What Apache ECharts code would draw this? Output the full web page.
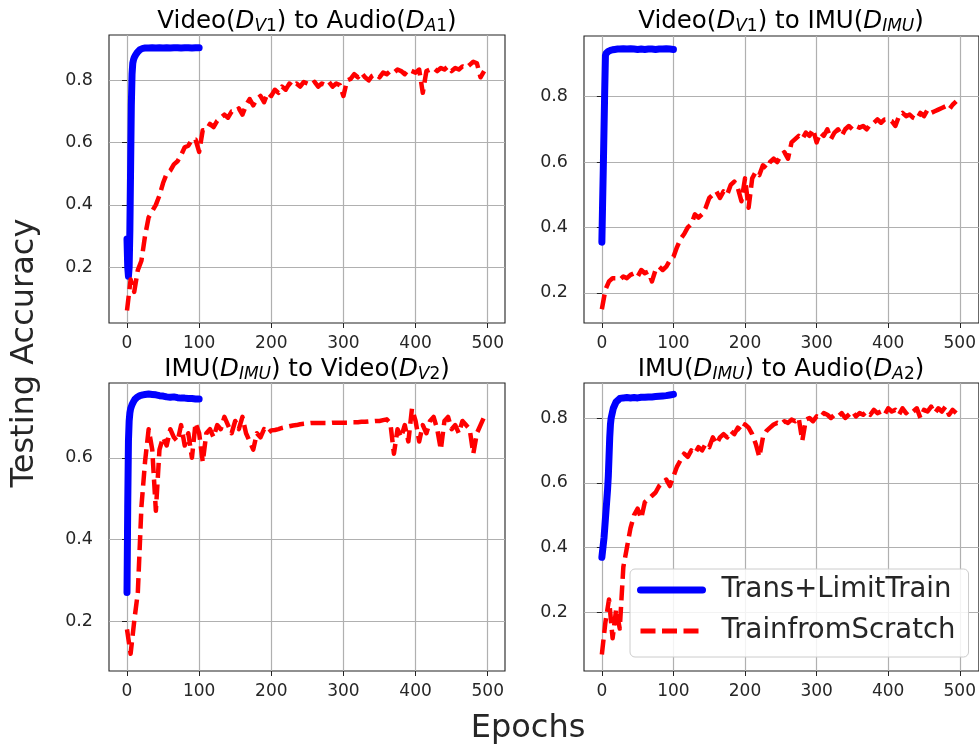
<!DOCTYPE html>
<html>
<head>
<meta charset="utf-8">
<script src="https://cdn.jsdelivr.net/npm/echarts@6/dist/echarts.min.js"></script>
<style>
html,body{margin:0;padding:0;background:#fff;}
#c{width:979px;height:748px;}
</style>
</head>
<body>
<div id="c"></div>
<script>
// ---------------- data ----------------
const redEpochs = [
  0,5,10,15,20,25,30,35,40,45,
  50,55,60,65,70,75,80,85,90,95,
  100,105,110,115,120,125,130,135,140,145,
  150,155,160,165,170,175,180,185,190,195,
  200,205,210,215,220,225,230,235,240,245,
  250,255,260,265,270,275,280,285,290,295,
  300,305,310,315,320,325,330,335,340,345,
  350,355,360,365,370,375,380,385,390,395,
  400,405,410,415,420,425,430,435,440,445,
  450,455,460,465,470,475,480,485,490,495
];
const blueEpochs = [0,1,2,3,4,5,6,7,8,9,10,11,12,13,14,15,16,18,20,22,25,30,35,40,45,50,55,60,65,70,75,80,85,90,95,100];

// Video(D_V1) to Audio(D_A1)
const blueVA = [0.29,0.20,0.17,0.20,0.32,0.52,0.72,0.82,0.855,0.866,0.873,0.878,0.882,0.886,0.889,0.892,0.895,0.899,0.902,0.903,0.904,0.904,0.905,0.904,0.905,0.904,0.905,0.904,0.905,0.905,0.904,0.905,0.905,0.904,0.905,0.905];
const redVA = [
  0.06,0.16,0.12,0.19,0.22,0.30,0.36,0.38,0.40,0.43,
  0.47,0.50,0.51,0.53,0.54,0.56,0.585,0.59,0.61,0.61,
  0.57,0.64,0.64,0.66,0.65,0.67,0.68,0.69,0.68,0.70,
  0.70,0.71,0.69,0.72,0.74,0.72,0.74,0.75,0.73,0.76,
  0.75,0.77,0.76,0.78,0.77,0.79,0.78,0.79,0.78,0.795,
  0.79,0.785,0.795,0.78,0.79,0.785,0.795,0.78,0.79,0.785,
  0.75,0.80,0.805,0.82,0.81,0.825,0.81,0.80,0.815,0.82,
  0.81,0.825,0.82,0.83,0.825,0.835,0.83,0.82,0.835,0.83,
  0.825,0.835,0.76,0.83,0.835,0.84,0.83,0.84,0.835,0.845,
  0.83,0.84,0.835,0.845,0.84,0.85,0.86,0.855,0.81,0.83
];

// Video(D_V1) to IMU(D_IMU)
const blueVI = [0.355,0.47,0.58,0.70,0.82,0.925,0.932,0.935,0.937,0.938,0.939,0.94,0.941,0.942,0.942,0.943,0.943,0.944,0.944,0.945,0.945,0.946,0.945,0.946,0.945,0.944,0.945,0.944,0.945,0.945,0.944,0.945,0.945,0.946,0.945,0.944];
const redVI = [
  0.15,0.21,0.235,0.245,0.245,0.24,0.25,0.245,0.255,0.26,
  0.25,0.27,0.26,0.265,0.235,0.27,0.28,0.27,0.28,0.30,
  0.31,0.34,0.365,0.38,0.40,0.41,0.44,0.43,0.44,0.46,
  0.49,0.50,0.51,0.49,0.51,0.50,0.53,0.54,0.52,0.48,
  0.55,0.46,0.55,0.57,0.56,0.59,0.58,0.60,0.61,0.60,
  0.62,0.63,0.61,0.66,0.67,0.68,0.67,0.69,0.68,0.70,
  0.66,0.69,0.68,0.70,0.67,0.69,0.70,0.68,0.70,0.71,
  0.70,0.71,0.705,0.71,0.70,0.715,0.72,0.73,0.72,0.73,
  0.73,0.725,0.71,0.74,0.75,0.74,0.745,0.735,0.73,0.75,
  0.74,0.76,0.75,0.755,0.76,0.765,0.77,0.76,0.775,0.785
];

// IMU(D_IMU) to Video(D_V2)
const blueIV = [0.27,0.48,0.64,0.69,0.71,0.72,0.725,0.73,0.734,0.737,0.74,0.743,0.745,0.747,0.748,0.749,0.75,0.752,0.753,0.754,0.755,0.756,0.755,0.754,0.752,0.751,0.749,0.748,0.749,0.747,0.746,0.746,0.745,0.745,0.744,0.744];
const redIV = [
  0.18,0.12,0.20,0.27,0.48,0.59,0.67,0.62,0.47,0.62,
  0.65,0.63,0.67,0.65,0.64,0.68,0.63,0.66,0.60,0.685,
  0.66,0.59,0.66,0.67,0.65,0.68,0.67,0.70,0.68,0.66,
  0.69,0.67,0.70,0.66,0.64,0.62,0.66,0.65,0.67,0.66,
  0.667,0.668,0.67,0.673,0.675,0.677,0.679,0.68,0.682,0.683,
  0.684,0.685,0.685,0.685,0.685,0.685,0.685,0.686,0.686,0.686,
  0.686,0.686,0.687,0.687,0.687,0.688,0.688,0.689,0.689,0.69,
  0.69,0.692,0.694,0.685,0.61,0.67,0.65,0.68,0.64,0.72,
  0.69,0.64,0.68,0.66,0.69,0.70,0.67,0.62,0.69,0.70,
  0.67,0.68,0.66,0.69,0.68,0.67,0.61,0.66,0.68,0.70
];

// IMU(D_IMU) to Audio(D_A2)
const blueIA = [0.37,0.39,0.41,0.43,0.46,0.49,0.52,0.55,0.58,0.62,0.68,0.74,0.78,0.80,0.81,0.82,0.83,0.84,0.85,0.855,0.86,0.862,0.863,0.862,0.863,0.862,0.864,0.864,0.865,0.865,0.866,0.867,0.868,0.869,0.871,0.873];
const redIA = [
  0.07,0.17,0.24,0.12,0.21,0.15,0.34,0.40,0.46,0.50,
  0.52,0.49,0.54,0.55,0.56,0.57,0.59,0.60,0.61,0.59,
  0.62,0.65,0.67,0.69,0.68,0.70,0.69,0.71,0.70,0.72,
  0.71,0.74,0.72,0.74,0.75,0.74,0.76,0.75,0.77,0.76,
  0.78,0.77,0.75,0.72,0.68,0.74,0.76,0.77,0.78,0.785,
  0.78,0.79,0.785,0.795,0.79,0.80,0.73,0.795,0.80,0.79,
  0.805,0.80,0.815,0.81,0.80,0.81,0.805,0.815,0.80,0.81,
  0.82,0.805,0.815,0.81,0.82,0.81,0.825,0.815,0.82,0.81,
  0.83,0.82,0.825,0.81,0.83,0.815,0.825,0.82,0.83,0.80,
  0.825,0.82,0.835,0.815,0.83,0.82,0.835,0.81,0.825,0.815
];

const xTicks = [0,100,200,300,400,500];
const yTicksA = [0.2,0.4,0.6,0.8];
const yTicksB = [0.2,0.4,0.6];
const seriesNames = ['Trans+LimitTrain','TrainfromScratch'];
const xLabel = 'Epochs';
const yLabel = 'Testing Accuracy';

// ---------------- chart ----------------
const FONT = 'DejaVu Sans';
const TXT = '#262626';
function pairs(xs, ys){ return xs.map((x,i)=>[x, ys[i]]); }

const grids = [
  {left:109, top:35, width:396, height:288},
  {left:584, top:36, width:398, height:287},
  {left:109, top:383, width:396, height:288},
  {left:584, top:383, width:398, height:288}
];
const xMaxes = [523.95, 526.7, 523.95, 526.7];
const yRanges = [[0.02,0.946,yTicksA,5],[0.108,0.985,yTicksA,5],[0.078,0.783,yTicksB,3],[0.019,0.908,yTicksA,5]];
const blues = [blueVA, blueVI, blueIV, blueIA];
const reds = [redVA, redVI, redIV, redIA];

const option = {
  animation:false,
  backgroundColor:'#fff',
  textStyle:{fontFamily:FONT},
  grid: grids.map(g=>Object.assign({show:true, borderColor:'#222', borderWidth:1.1, backgroundColor:'transparent'}, g)),
  xAxis: grids.map((g,i)=>({
    type:'value', gridIndex:i, min:-24.95, max:xMaxes[i], splitNumber:5,
    axisLine:{show:false},
    axisTick:{show:true, length:5, inside:false, customValues:xTicks, lineStyle:{color:'#222', width:1}},
    axisLabel:{customValues:xTicks, fontSize:17, fontFamily:FONT, color:TXT, margin:12},
    splitLine:{show:true, lineStyle:{color:'#b0b0b0', width:1.2}}
  })),
  yAxis: grids.map((g,i)=>({
    type:'value', gridIndex:i, min:yRanges[i][0], max:yRanges[i][1], splitNumber:yRanges[i][3],
    axisLine:{show:false},
    axisTick:{show:true, length:5, inside:false, customValues:yRanges[i][2], lineStyle:{color:'#222', width:1}},
    axisLabel:{customValues:yRanges[i][2], fontSize:17.5, fontFamily:FONT, color:TXT, margin:16, formatter:v=>v.toFixed(1)},
    splitLine:{show:true, lineStyle:{color:'#b0b0b0', width:1.2}}
  })),
  legend:{
    orient:'vertical', left:630, top:569, selectedMode:false,
    itemWidth:62, itemHeight:14, itemGap:13,
    padding:[7,13,12,7],
    backgroundColor:'rgba(255,255,255,0.85)', borderColor:'#cccccc', borderWidth:1, borderRadius:5,
    textStyle:{fontSize:27.5, fontFamily:FONT, color:TXT, padding:[0,0,0,14]},
    itemStyle:{opacity:0, borderWidth:0},
    data:[
      {name:seriesNames[0], lineStyle:{width:7}, itemStyle:{opacity:0, borderWidth:0}},
      {name:seriesNames[1], lineStyle:{width:5}, itemStyle:{opacity:0, borderWidth:0}}
    ]
  },
  series: [],
  graphic: []
};

for (let i=0;i<4;i++){
  option.series.push({
    name:seriesNames[0], type:'line', xAxisIndex:i, yAxisIndex:i, symbol:'none', showSymbol:false, z:2,
    data:pairs(blueEpochs, blues[i]),
    lineStyle:{color:'#0000ff', width:7, join:'round', cap:'round'},
    itemStyle:{color:'#0000ff'}
  });
}
for (let i=0;i<4;i++){
  option.series.push({
    name:seriesNames[1], type:'line', xAxisIndex:i, yAxisIndex:i, symbol:'none', showSymbol:false, z:3,
    data:pairs(redEpochs, reds[i]),
    lineStyle:{color:'#ff0000', width:4.5, type:[15,6.5], join:'round'},
    itemStyle:{color:'#ff0000'}
  });
}

const rich = {
  n:{fontSize:24.5, fontFamily:FONT, color:TXT},
  i:{fontSize:24.5, fontFamily:FONT, fontStyle:'italic', color:TXT},
  s:{fontSize:17, fontFamily:FONT, fontStyle:'italic', color:TXT, padding:[10,0,0,0]},
  t:{fontSize:17, fontFamily:FONT, color:TXT, padding:[10,0,0,0]}
};
const titles = [
  {x:307, y:22, text:'{n|Video(}{i|D}{s|V}{t|1}{n|) to Audio(}{i|D}{s|A}{t|1}{n|)}'},
  {x:781, y:22, text:'{n|Video(}{i|D}{s|V}{t|1}{n|) to IMU(}{i|D}{s|IMU}{n|)}'},
  {x:307, y:370, text:'{n|IMU(}{i|D}{s|IMU}{n|) to Video(}{i|D}{s|V}{t|2}{n|)}'},
  {x:781, y:370, text:'{n|IMU(}{i|D}{s|IMU}{n|) to Audio(}{i|D}{s|A}{t|2}{n|)}'}
];
titles.forEach(t=>{
  option.graphic.push({type:'text', x:t.x, y:t.y, z:10, style:{text:t.text, rich:rich, align:'center', verticalAlign:'middle'}});
});
option.graphic.push({type:'text', x:25, y:353, rotation:Math.PI/2, z:10,
  style:{text:yLabel, fontSize:32, fontFamily:FONT, fill:TXT, align:'center', verticalAlign:'middle'}});
option.graphic.push({type:'text', x:528, y:729, z:10,
  style:{text:xLabel, fontSize:32, fontFamily:FONT, fill:TXT, align:'center', verticalAlign:'middle'}});

const chart = echarts.init(document.getElementById('c'), null, {renderer:'canvas'});
chart.setOption(option);
</script>
</body>
</html>
